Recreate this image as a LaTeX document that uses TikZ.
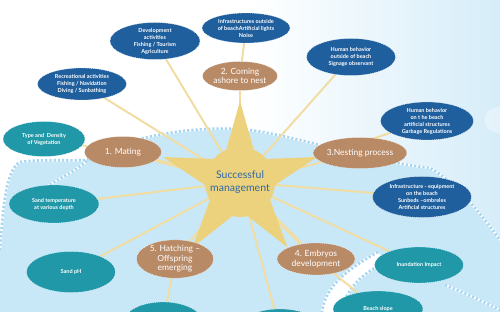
\documentclass[tikz,border=0pt]{standalone}
\usepackage{fontspec}
\setmainfont{Lato}
\usetikzlibrary{shapes.geometric,calc}
\definecolor{darkblue}{HTML}{1F5F9E}
\definecolor{tealblue}{HTML}{2098A8}
\definecolor{tanbrown}{HTML}{B98A66}
\definecolor{starcol}{HTML}{EDD27E}
\definecolor{raycol}{HTML}{F1DDA2}
\definecolor{seablue}{HTML}{C8E7F7}
\definecolor{edgeblue}{HTML}{A6D6F1}
\definecolor{suntext}{HTML}{2F67A6}
\pgfdeclarelayer{bg}
\pgfdeclarelayer{rays}
\pgfsetlayers{bg,rays,main}
\tikzset{
 oval/.style={ellipse, inner sep=0pt, align=center, text=white, draw=white, line width=0.3pt, dash pattern=on 1pt off 1pt},
 ovalsize/.style 2 args={minimum width=#1pt, minimum height=#2pt},
 bluenode/.style={oval, fill=darkblue, font=\fontsize{5.5}{7}\selectfont\bfseries},
 tealnode/.style={oval, fill=tealblue, font=\fontsize{5.5}{7}\selectfont\bfseries},
 brownnode/.style={oval, fill=tanbrown, font=\fontsize{8.5}{9.6}\selectfont},
 ray/.style={draw=raycol, line width=2pt},
 stampedge/.style={draw=edgeblue, line width=2.6pt, dash pattern=on 2.2pt off 2pt,
   preaction={draw=white, line width=2.6pt, solid}},
}
\begin{document}
\begin{tikzpicture}[x=1pt, y=-1pt]
 \clip (0,0) rectangle (500,312);
 \useasboundingbox (0,0) rectangle (500,312);

 % outer ring of factors
 \node[bluenode, ovalsize={90}{37}] (devel) at (155,41) {Development\\activities\\Fishing / Tourism\\Agriculture};
 \node[bluenode, ovalsize={88}{30}] (infout) at (246,28) {Infrastructures outside\\of beachArtificial lights\\Noise};
 \node[bluenode, ovalsize={89}{37}] (humout) at (351,57) {Human behavior\\outside of beach\\Signage observant};
 \node[bluenode, ovalsize={89}{32}] (recr) at (82,84) {Recreational activities\\Fishing / Navidation\\Diving / Sunbathing};
 \node[bluenode, ovalsize={93}{38}] (humon) at (427,121) {Human behavior\\on t he beach\\artificial structures\\Garbage Regulations};
 \node[bluenode, ovalsize={99}{41}] (infeq) at (422,197) {Infrastructure - equipment\\on the beach\\Sunbeds --ombreles\\Artificial structures};
 \node[tealnode, ovalsize={82}{35}] (veg) at (44,139) {Type and~ Density\\of Vegetation};
 \node[tealnode, ovalsize={90}{38}] (sandt) at (54,204) {Sand temperature\\at various depth};
 \node[tealnode, ovalsize={89}{41}] (sandph) at (71,272) {Sand pH};
 \node[tealnode, ovalsize={89}{36}] (inund) at (419,265) {Inundation Impact};
 \node[tealnode, ovalsize={90}{36}] (slope) at (378,309) {Beach slope};
 \node[tealnode, ovalsize={80}{42}] (lowleft) at (163,323) {};
 \node[tealnode, ovalsize={85}{42}] (lowmid) at (280,330) {};

 % life stages
 \node[brownnode, ovalsize={77}{31}] (mating) at (123,152) {1. Mating};
 \node[brownnode, ovalsize={75}{29}] (coming) at (240,76) {2. Coming\\ashore to nest};
 \node[brownnode, ovalsize={84}{31}] (nesting) at (360,153) {3.Nesting process};
 \node[brownnode, ovalsize={78}{32}] (embryo) at (316,259) {4. Embryos\\development};
 \node[brownnode, ovalsize={77}{38}] (hatch) at (175,259) {5. Hatching --\\Offspring\\emerging};

 \node[circle, fill=starcol, minimum size=70pt, inner sep=0pt, align=center, text=suntext,
   font=\fontsize{10.5}{12.5}\selectfont] (sun) at (240,182) {Successful\\management};

 \begin{pgfonlayer}{rays}
 \foreach \n in {recr,devel,coming,humout,humon,nesting,sandt,sandph,hatch,lowmid,infeq,inund}
   \draw[ray] (sun.center) -- (\n);
 \draw[ray, line width=3.5pt] (sun.center) -- (mating);
 \draw[ray, line width=3.5pt] (sun.center) -- (embryo);
 \draw[ray] (veg) -- (mating);
 \draw[ray] (infout) -- (coming);
 \draw[ray] (lowleft) -- (hatch);
 \draw[ray] (slope) -- (embryo);
 % big star behind the sun
 \foreach \i in {0,...,4} {
   \coordinate (so\i) at ($(sun.center)+(-90+72*\i:81)$);
   \coordinate (si\i) at ($(sun.center)+(-54+72*\i:28)$);
 }
 \fill[starcol] (so0) -- (si0) -- (so1) -- (si1) -- (so2) -- (si2) -- (so3) -- (si3) -- (so4) -- (si4) -- cycle;
 \end{pgfonlayer}

 \begin{pgfonlayer}{bg}
 \fill[white] (0,0) rectangle (500,312);
 \shade[left color=white, right color=seablue!75] (250,0) rectangle (500,312);
 \fill[white, opacity=0.35] (500,120) ellipse (16 and 13);
 % beach area
 \fill[seablue] (0,250) .. controls (3,205) and (6,170) .. (20,162)
   .. controls (40,159) and (70,161) .. (87,160)
   .. controls (120,140) and (180,126) .. (240,129)
   .. controls (290,133) and (360,160) .. (430,168)
   .. controls (460,185) and (485,220) .. (500,240) -- (500,312) -- (0,312) -- cycle;
 \draw[stampedge] (0,250) .. controls (3,205) and (6,170) .. (20,162)
   .. controls (40,159) and (70,161) .. (87,160)
   .. controls (120,140) and (180,126) .. (240,129)
   .. controls (290,133) and (360,160) .. (430,168)
   .. controls (460,185) and (485,220) .. (500,240);
 \draw[stampedge] (87,161) .. controls (70,175) and (55,180) .. (45,188);
 \fill[white] (378,252) .. controls (350,268) and (325,285) .. (322,312) -- (342,312)
   .. controls (345,290) and (360,275) .. (385,262) -- cycle;
 \draw[stampedge] (378,252) .. controls (350,268) and (325,285) .. (322,312);
 \draw[stampedge] (385,262) .. controls (360,275) and (345,290) .. (342,312);
 \draw[stampedge] (445,285) .. controls (470,295) and (490,305) .. (500,310);
 \end{pgfonlayer}
\end{tikzpicture}
\end{document}
